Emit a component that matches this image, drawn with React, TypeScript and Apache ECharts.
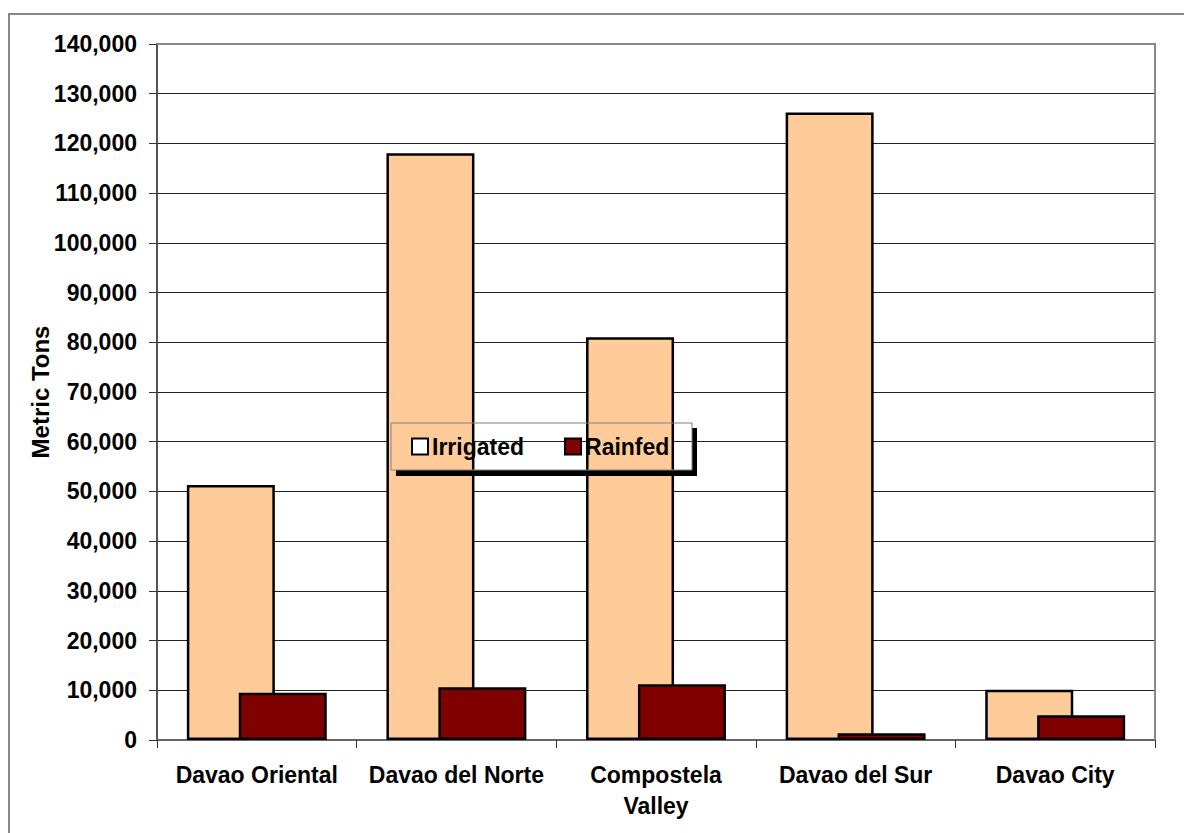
import React, { useEffect, useRef } from "react";
import * as echarts from "echarts";

const categories = ["Davao Oriental", "Davao del Norte", "Compostela\nValley", "Davao del Sur", "Davao City"];
const irrigated = [51300, 118000, 81000, 126200, 10100];
const rainfed = [9500, 10600, 11200, 1350, 5000];
const seriesNames = ["Irrigated", "Rainfed"];

const FONT = "'Liberation Sans', Arial, sans-serif";
const FS = 23;

export default function App() {
  const ref = useRef<HTMLDivElement>(null);
  useEffect(() => {
    if (!ref.current) return;
    const chart = echarts.init(ref.current, undefined, { renderer: "svg" });
    chart.setOption({
      animation: false,
      backgroundColor: "#ffffff",
      textStyle: { fontFamily: FONT },
      grid: { left: 157, top: 44, right: 29, bottom: 93, containLabel: false },
      legend: {
        left: 411,
        top: 435,
        itemWidth: 16,
        itemHeight: 16,
        itemGap: 40,
        padding: 0,
        icon: "rect",
        textStyle: { fontFamily: FONT, fontSize: FS, fontWeight: "bold", color: "#000", padding: [0, 0, 0, -1] },
        data: [
          { name: seriesNames[0], itemStyle: { color: "#ffffff", borderColor: "#000", borderWidth: 2 } },
          { name: seriesNames[1], itemStyle: { color: "#800000", borderColor: "#000", borderWidth: 2 } },
        ],
      },
      xAxis: {
        type: "category",
        data: categories,
        axisLine: { lineStyle: { color: "#666", width: 2 } },
        axisTick: { show: true, length: 8, lineStyle: { color: "#333" } },
        axisLabel: {
          interval: 0,
          margin: 19,
          fontFamily: FONT,
          fontSize: FS,
          fontWeight: "bold",
          color: "#000",
          lineHeight: 31,
        },
      },
      yAxis: {
        type: "value",
        min: 0,
        max: 140000,
        interval: 10000,
        name: "Metric Tons",
        nameLocation: "middle",
        nameGap: 105,
        nameMoveOverlap: false,
        nameTextStyle: { fontFamily: FONT, fontSize: 24, fontWeight: "bold", color: "#000" },
        axisLine: { show: true, lineStyle: { color: "#555", width: 2 } },
        axisTick: { show: true, length: 8, lineStyle: { color: "#333" } },
        axisLabel: {
          margin: 20,
          fontFamily: FONT,
          fontSize: FS,
          fontWeight: "bold",
          color: "#000",
          formatter: (v: number) => v.toLocaleString("en-US"),
        },
        splitLine: { show: true, lineStyle: { color: "#222", width: 1 } },
      },
      series: [
        {
          name: seriesNames[0],
          type: "bar",
          data: irrigated,
          barWidth: 88,
          barGap: "-41%",
          itemStyle: { color: "#FFCC99", borderColor: "#000", borderWidth: 2.5 },
        },
        {
          name: seriesNames[1],
          type: "bar",
          data: rainfed,
          barWidth: 88,
          barGap: "-41%",
          itemStyle: { color: "#800000", borderColor: "#000", borderWidth: 2.5 },
        },
      ],
      graphic: [
        {
          type: "rect",
          silent: true,
          shape: { x: 9, y: 14, width: 1300, height: 1000 },
          style: { fill: "none", stroke: "#888", lineWidth: 2 },
          z: 100,
        },
        {
          type: "polyline",
          silent: true,
          shape: { points: [[157, 44], [1155, 44], [1155, 740]] },
          style: { fill: "none", stroke: "#888", lineWidth: 2 },
          z: 100,
        },
        {
          type: "rect",
          silent: true,
          shape: { x: 396, y: 470, width: 301, height: 6 },
          style: { fill: "#000" },
          z: 100,
        },
        {
          type: "rect",
          silent: true,
          shape: { x: 692, y: 428, width: 5, height: 48 },
          style: { fill: "#000" },
          z: 100,
        },
        {
          type: "rect",
          silent: true,
          shape: { x: 391, y: 423, width: 301, height: 47 },
          style: { fill: "none", stroke: "#808080", lineWidth: 1 },
          z: 100,
        },
      ],
    });
    return () => chart.dispose();
  }, []);
  return (
    <div style={{ position: "fixed", left: 0, top: 0, width: 1184, height: 833 }}>
      <div ref={ref} style={{ width: 1184, height: 833 }} />
    </div>
  );
}
